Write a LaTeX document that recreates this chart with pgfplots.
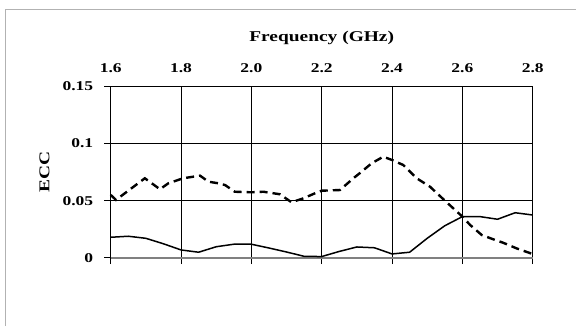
\documentclass[border=0pt]{standalone}
\usepackage{fontspec}
\setmainfont{Liberation Serif}
\newfontfamily\chartfont[FakeStretch=1.3]{Liberation Serif}
\usepackage{pgfplots}
\pgfplotsset{compat=1.18}
\begin{document}
\begin{tikzpicture}[x=1bp,y=1bp]
\useasboundingbox (0,0) rectangle (576,326);
\draw[gray!60, line width=0.8bp] (5.5,0) -- (5.5,317) -- (576,317);
\begin{axis}[
  at={(110.7bp,68.3bp)}, anchor=south west,
  scale only axis, width=422bp, height=171.2bp,
  xmin=1.6, xmax=2.8, ymin=0, ymax=0.15,
  xtick={1.6,1.8,2.0,2.2,2.4,2.6,2.8},
  xticklabels={1.6,1.8,2.0,2.2,2.4,2.6,2.8},
  ytick={0,0.05,0.1,0.15},
  yticklabels={0,0.05,0.1,0.15},
  xtick pos=lower, xticklabel pos=upper,
  ytick pos=left,
  tick align=outside,
  major tick length=6.5bp,
  tick style={black, line width=0.7bp},
  grid=major,
  major grid style={black, line width=0.7bp},
  axis line style={black, line width=0.7bp},
  /pgf/number format/assume math mode=true,
  ticklabel style={font=\chartfont\fontsize{13.5}{15}\selectfont\bfseries},
  xticklabel style={anchor=base, yshift=7bp},
  yticklabel style={anchor=east, xshift=-7.5bp},
  xlabel={Frequency (GHz)},
  ylabel={ECC},
  label style={font=\chartfont\fontsize{15}{17}\selectfont\bfseries},
  xlabel style={at={(axis description cs:0.5,1.265)}, anchor=base},
  ylabel style={at={(axis description cs:-0.157,0.5)}, anchor=center},
  clip=false,
]
\addplot[gray, line width=1.6bp, forget plot] coordinates {(1.6,0) (2.8,0)};
\addplot[black, line width=2.4bp, dash pattern=on 8bp off 5bp] coordinates {
(1.600,0.0550) (1.615,0.0506) (1.697,0.0696) (1.740,0.0600) (1.764,0.0652)
(1.806,0.0696) (1.854,0.0719) (1.878,0.0666) (1.906,0.0652) (1.925,0.0637)
(1.953,0.0578) (2.000,0.0573) (2.034,0.0578) (2.081,0.0556) (2.114,0.0486)
(2.148,0.0520) (2.176,0.0558) (2.200,0.0587) (2.252,0.0593) (2.290,0.0696)
(2.308,0.0740) (2.342,0.0827) (2.375,0.0885) (2.400,0.0856) (2.432,0.0812)
(2.470,0.0696) (2.508,0.0622) (2.546,0.0512) (2.574,0.0433) (2.600,0.0360)
(2.622,0.0287) (2.655,0.0199) (2.688,0.0161) (2.716,0.0131) (2.754,0.0082)
(2.800,0.0032)};
\addplot[black, line width=1.5bp] coordinates {
(1.60,0.0179) (1.65,0.0188) (1.70,0.0170) (1.75,0.0122) (1.80,0.0068)
(1.85,0.0048) (1.90,0.0096) (1.95,0.0118) (2.00,0.0118) (2.05,0.0085)
(2.10,0.0050) (2.15,0.0012) (2.20,0.0010) (2.25,0.0055) (2.30,0.0094)
(2.35,0.0087) (2.40,0.0033) (2.45,0.0048) (2.50,0.0170) (2.55,0.0280)
(2.60,0.0360) (2.65,0.0360) (2.70,0.0337) (2.75,0.0394) (2.80,0.0374)};
\end{axis}
\end{tikzpicture}
\end{document}
